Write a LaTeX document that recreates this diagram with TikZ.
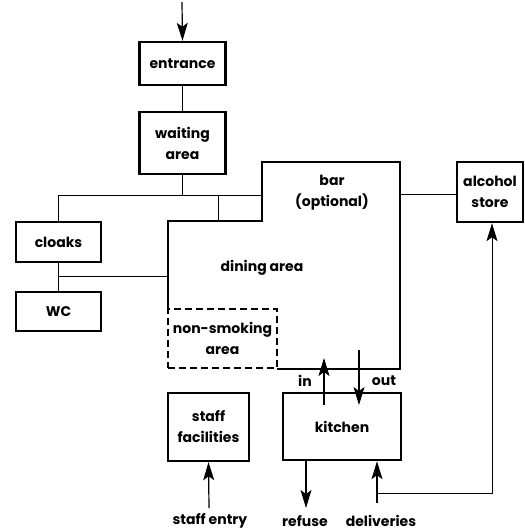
\documentclass[tikz,border=0pt]{standalone}
\usepackage{fontspec}
\setmainfont{Poppins}
\usetikzlibrary{arrows.meta}
\begin{document}
\begin{tikzpicture}[x=1pt,y=-1pt,
  box/.style={draw,line width=2.4pt,align=center,inner sep=1pt,font=\fontsize{14}{21}\selectfont\bfseries},
  lbl/.style={font=\fontsize{14}{21}\selectfont\bfseries,inner sep=1pt},
  conn/.style={line width=0.9pt},
  tip/.style={-{Stealth[length=18pt,width=11pt,inset=4pt]}},
  arr/.style={line width=1.2pt,tip}]
\useasboundingbox (0,0) rectangle (525,531);
% boxes
\node[box,minimum width=86pt,minimum height=43pt] (entrance) at (182.5,63.5) {entrance};
\node[box,minimum width=86pt,minimum height=62pt] (waiting) at (182.5,143) {waiting\\area};
\node[box,minimum width=85pt,minimum height=40pt] (cloaks) at (58.5,242) {cloaks};
\node[box,minimum width=85pt,minimum height=39pt] (wc) at (58.5,311.5) {WC};
\node[box,minimum width=66pt,minimum height=60pt] (alcohol) at (490,192) {alcohol\\store};
\node[box,minimum width=81pt,minimum height=68pt] (staff) at (208.5,427) {staff\\facilities};
\node[box,minimum width=118pt,minimum height=67pt] (kitchen) at (342,426.5) {kitchen};
\node[box,dashed,dash pattern=on 7pt off 4pt,line width=1.8pt,minimum width=109pt,minimum height=59pt] (nonsmoking) at (222.5,338.5) {non-smoking\\area};
% dining area outline
\coordinate (dA) at (168,309);
\coordinate (dB) at (168,221);
\coordinate (dC) at (262,221);
\coordinate (dD) at (262,162);
\coordinate (dE) at (400,162);
\coordinate (dF) at (400,369);
\coordinate (dG) at (277,369);
\draw[line width=2.4pt,line join=miter] (dA) -- (dB) -- (dC) -- (dD) -- (dE) -- (dF) -- (dG);
\node[lbl,align=center] (bar) at (332,193) {bar\\(optional)};
\node[lbl] (dining) at (262,268) {dining area};
% connectors
\coordinate (top) at (182,2);
\draw[arr] (top) -- (entrance.north);
\draw[conn] (entrance.south) -- (waiting.north);
\coordinate (j1) at (182.5,195);
\coordinate (jL) at (58.5,195);
\coordinate (jR) at (262,195);
\coordinate (jM) at (218,195);
\coordinate (jMd) at (218,221);
\draw[conn] (waiting.south) -- (j1);
\draw[conn] (jL) -- (jR);
\draw[conn] (jL) -- (cloaks.north);
\draw[conn] (jM) -- (jMd);
\draw[conn] (cloaks.south) -- (wc.north);
\coordinate (w1) at (58.5,276);
\coordinate (w2) at (168,276);
\draw[conn] (w1) -- (w2);
\coordinate (b1) at (400,194);
\draw[conn] (b1) -- (alcohol.west |- b1);
% in/out
\coordinate (inS) at (324,405);
\coordinate (inE) at (324,358);
\coordinate (outS) at (359,350);
\coordinate (outE) at (359,405);
\draw[arr] (inS) -- (inE);
\draw[arr] (outS) -- (outE);
\node[lbl] (in) at (305,381) {in};
\node[lbl] (out) at (384,381) {out};
% refuse / deliveries
\coordinate (refE) at (306,508);
\draw[arr] (kitchen.south -| refE) -- (refE);
\coordinate (delS) at (377,503);
\draw[arr] (delS) -- (kitchen.south -| delS);
\coordinate (d1) at (377,493);
\coordinate (d2) at (492,493);
\draw[conn,tip] (d1) -- (d2) -- (alcohol.south -| d2);
% staff
\coordinate (stS) at (209,508);
\draw[arr] (stS) -- (staff.south);
\node[lbl] (staffentry) at (210,521) {staff entry};
\node[lbl] (refuse) at (305,521) {refuse};
\node[lbl] (deliveries) at (381,521) {deliveries};
\end{tikzpicture}
\end{document}
